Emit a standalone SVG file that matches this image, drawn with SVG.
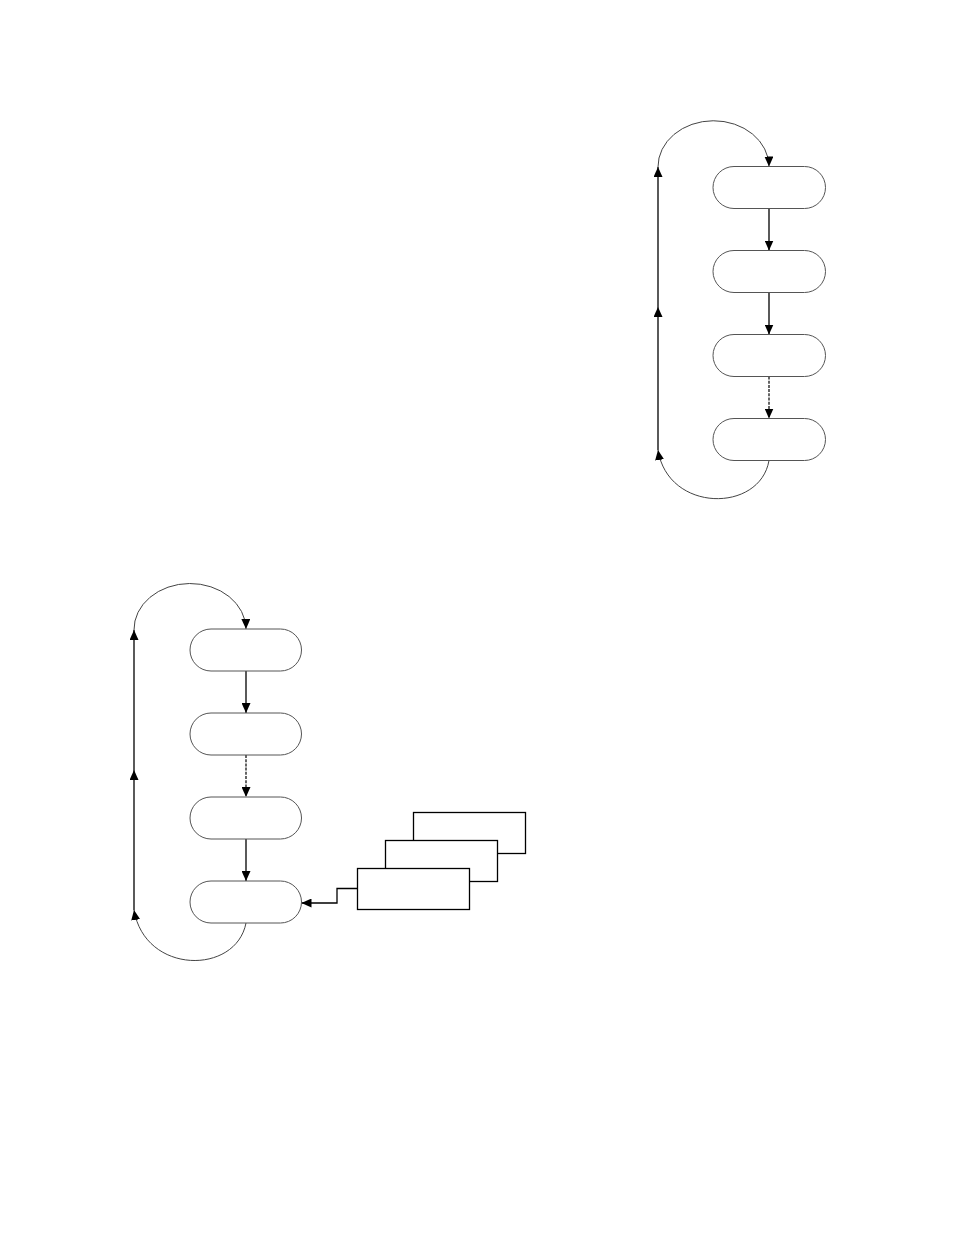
<svg xmlns="http://www.w3.org/2000/svg" width="954" height="1235" viewBox="0 0 954 1235">
<style>
.node{fill:#fff;stroke:#555;stroke-width:1}
.box{fill:#fff;stroke:#000;stroke-width:1.3}
.ln{fill:none;stroke:#000;stroke-width:1.3}
.dash{fill:none;stroke:#000;stroke-width:1.2;stroke-dasharray:3 1.2}
.arc{fill:none;stroke:#444;stroke-width:1}
</style>
<defs>
<marker id="ah" viewBox="0 0 10 9" refX="10" refY="4.5" markerWidth="10" markerHeight="9" markerUnits="userSpaceOnUse" orient="auto">
<path d="M0,0 L10,4.5 L0,9 Z" fill="#000"/>
</marker>
</defs>
<rect width="954" height="1235" fill="#fff"/>
<g id="connectors">
<path class="arc" d="M658,167 A55.5 46 0 0 1 769,166.5" marker-end="url(#ah)"/>
<path class="ln" d="M769,208.5 V250.5" marker-end="url(#ah)"/>
<path class="ln" d="M769,292.5 V334.5" marker-end="url(#ah)"/>
<path class="dash" d="M769,376.5 V418.5" marker-end="url(#ah)"/>
<path class="arc" d="M769,460.5 C760,513 668,513 658,450" marker-end="url(#ah)"/>
<path class="ln" d="M658,450 V307" marker-end="url(#ah)"/>
<path class="ln" d="M658,307 V167" marker-end="url(#ah)"/>
<path class="arc" d="M134,630 A56 46 0 0 1 246,629" marker-end="url(#ah)"/>
<path class="ln" d="M246,671 V713" marker-end="url(#ah)"/>
<path class="dash" d="M246,755 V797" marker-end="url(#ah)"/>
<path class="ln" d="M246,839 V881" marker-end="url(#ah)"/>
<path class="arc" d="M246,923 C236,975 145,975 134,910" marker-end="url(#ah)"/>
<path class="ln" d="M134,910 V770" marker-end="url(#ah)"/>
<path class="ln" d="M134,770 V630" marker-end="url(#ah)"/>
<path class="ln" d="M357.5,888.5 H337 V903 H301.5" marker-end="url(#ah)"/>
</g>
<g id="tr1"><rect class="node" x="713" y="166.5" width="112.5" height="42" rx="21"/></g>
<g id="tr2"><rect class="node" x="713" y="250.5" width="112.5" height="42" rx="21"/></g>
<g id="tr3"><rect class="node" x="713" y="334.5" width="112.5" height="42" rx="21"/></g>
<g id="tr4"><rect class="node" x="713" y="418.5" width="112.5" height="42" rx="21"/></g>
<g id="bl1"><rect class="node" x="190" y="629" width="111.5" height="42" rx="21"/></g>
<g id="bl2"><rect class="node" x="190" y="713" width="111.5" height="42" rx="21"/></g>
<g id="bl3"><rect class="node" x="190" y="797" width="111.5" height="42" rx="21"/></g>
<g id="bl4"><rect class="node" x="190" y="881" width="111.5" height="42" rx="21"/></g>
<g id="stack">
<rect class="box" x="413.5" y="812.5" width="112" height="41"/>
<rect class="box" x="385.5" y="840.5" width="112" height="41"/>
<rect class="box" x="357.5" y="868.5" width="112" height="41"/>
</g>
</svg>
